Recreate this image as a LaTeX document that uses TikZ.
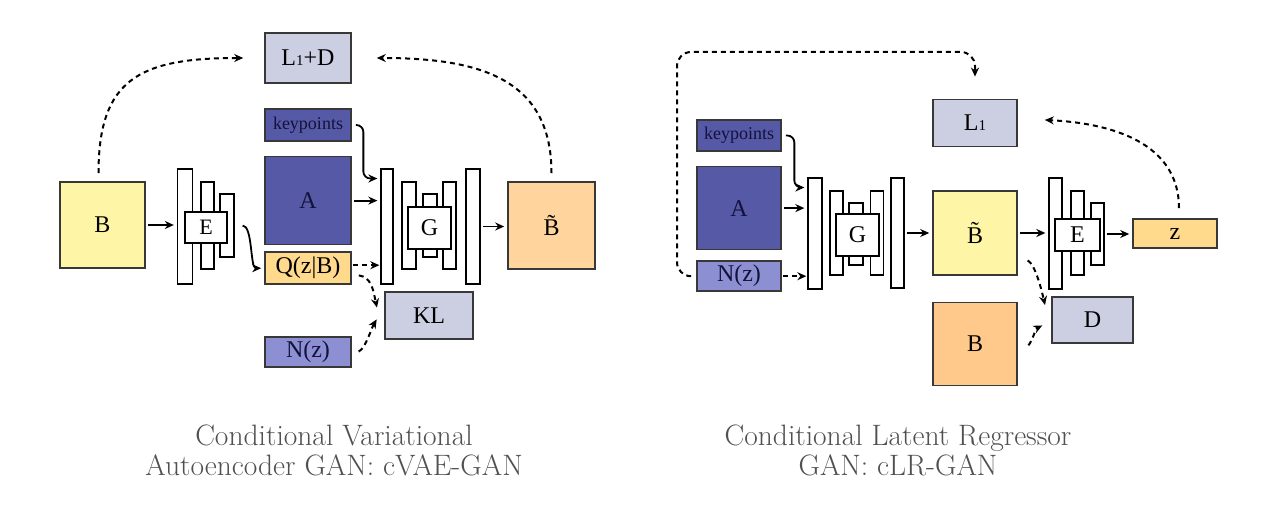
\documentclass[tikz,border=0pt]{standalone}
\usepackage{fontspec}
\usepackage{xcolor}
\usepackage{tikz}
\usetikzlibrary{positioning,arrows.meta,calc}

\newfontfamily\boxfont{Liberation Serif}

\definecolor{bYellow}{HTML}{FFF5A6}
\definecolor{bOrange}{HTML}{FFD49D}
\definecolor{bOrangeR}{HTML}{FFC98B}
\definecolor{aBlue}{HTML}{5659A6}
\definecolor{nBlue}{HTML}{8C8FD2}
\definecolor{qYellow}{HTML}{FFD98C}
\definecolor{lossGray}{HTML}{CCCEE2}
\definecolor{edgeGray}{HTML}{383838}
\definecolor{navyText}{HTML}{12123A}
\definecolor{capGray}{HTML}{505050}

\begin{document}
\begin{tikzpicture}[
    x=1pt, y=-1pt,
    font=\boxfont\fontsize{24}{28}\selectfont,
    >={Stealth[length=9pt,width=8pt]},
    box/.style={draw=edgeGray, line width=1.6pt, inner sep=0pt, minimum width=86pt},
    bar/.style={draw=black, line width=1.3pt, fill=white, inner sep=0pt, minimum width=13pt},
    flow/.style={->, line width=1.8pt, shorten <=2pt, shorten >=3pt},
    dots/.style={->, line width=2pt, dash pattern=on 5pt off 4pt, shorten <=1pt, shorten >=1pt},
    caption/.style={align=center, text=capGray, font=\rmfamily\fontsize{29.5}{30}\selectfont}
]

\useasboundingbox (0,0) rectangle (1280,511);

% cVAE-GAN
\node[box, fill=bYellow, minimum width=85pt, minimum height=86pt] (lB) at (102.5,225) {B};

% encoder E
\node[bar, minimum width=15pt, minimum height=115pt] (eL1) at (185,226.5) {};
\node[bar, minimum height=87pt] (eL2) at (207.5,225.5) {};
\node[bar, minimum width=14pt, minimum height=63pt] (eL3) at (227,225.5) {};
\node[bar, minimum width=42pt, minimum height=31pt, font=\boxfont\fontsize{22}{25}\selectfont] (eLbox) at (206,227.5) {E};

% inputs
\node[box, fill=lossGray, minimum height=50pt] (lLoss) at (308,58) {L{\fontsize{15}{15}\selectfont 1}+D};
\node[box, fill=aBlue, minimum height=32pt, text=navyText, font=\boxfont\fontsize{18}{20}\selectfont] (lKey) at (308,125) {keypoints};
\node[box, fill=aBlue, minimum height=88pt, text=navyText, below=14pt of lKey] (lA) {A};
\node[box, fill=qYellow, minimum height=32pt, below=6pt of lA] (lQ) {Q(z|B)};
\node[box, fill=nBlue, minimum height=30pt, text=navyText] (lN) at (308,352) {N(z)};

% generator G
\node[bar, minimum width=12pt, minimum height=115pt] (gL1) at (387,226.5) {};
\node[bar, minimum width=14pt, minimum height=87pt] (gL2) at (409,225.5) {};
\node[bar, minimum width=14pt, minimum height=63pt] (gL3) at (430,225.5) {};
\node[bar, minimum height=87pt] (gL4) at (449.5,225.5) {};
\node[bar, minimum width=14pt, minimum height=115pt] (gL5) at (473,226.5) {};
\node[bar, minimum width=43pt, minimum height=42pt] (gLbox) at (429.5,228) {G};

\node[box, fill=bOrange, minimum width=87pt, minimum height=87pt] (lBt) at (551.5,225.5) {B^^^^0303};
\node[box, fill=lossGray, minimum width=88pt, minimum height=47pt] (lKL) at (429,315.5) {KL};

% connectors
\draw[flow] (lB.east) -- (eL1.west |- lB.east);
\draw[flow] ([xshift=6pt]eL3.east) .. controls +(12,0) and +(-14,0) .. (lQ.west);
\draw[flow, rounded corners=7pt] ([xshift=2pt]lKey.east) -| ([xshift=-17pt,yshift=48pt]gL1.west) -- ([yshift=48pt]gL1.west);
\draw[flow] (lA.east) -- (gL1.west |- lA.east);
\draw[dots] ([yshift=3pt]lQ.east) -- ([yshift=3pt]gL1.west |- lQ.east);
\draw[flow] (gL5.east) -- (lBt.west |- gL5.east);
\draw[dots] ([xshift=-4pt,yshift=7pt]lB.north) .. controls +(0,-95) and +(-105,0) .. ([xshift=-20pt]lLoss.west);
\draw[dots] ([yshift=7pt]lBt.north) .. controls +(0,-95) and +(105,0) .. ([xshift=24pt]lLoss.east);
\draw[dots] ([xshift=6pt,yshift=-7pt]lQ.east) .. controls +(14,2) and +(-4,-18) .. ([xshift=-7pt,yshift=7pt]lKL.west);
\draw[dots] ([xshift=6pt]lN.east) .. controls +(8,-4) and +(-6,10) .. ([xshift=-7pt,yshift=-3pt]lKL.west);

% cLR-GAN
\node[box, fill=aBlue, minimum width=84pt, minimum height=31pt, text=navyText, font=\boxfont\fontsize{18}{20}\selectfont] (rKey) at (739,135.5) {keypoints};
\node[box, fill=aBlue, minimum width=84pt, minimum height=83pt, text=navyText, below=14pt of rKey] (rA) {A};
\node[box, fill=nBlue, minimum width=84pt, minimum height=30pt, text=navyText, below=10pt of rA] (rN) {N(z)};

% generator G
\node[bar, minimum width=14pt, minimum height=111pt] (gR1) at (815,233.5) {};
\node[bar, minimum height=84pt] (gR2) at (836.5,233) {};
\node[bar, minimum width=14pt, minimum height=62pt] (gR3) at (856,234) {};
\node[bar, minimum height=84pt] (gR4) at (877,233) {};
\node[bar, minimum height=110pt] (gR5) at (897.5,233) {};
\node[bar, minimum width=43pt, minimum height=42pt] (gRbox) at (857.5,235) {G};

\node[box, fill=bYellow, minimum width=84pt, minimum height=84pt] (rBt) at (975,233) {B^^^^0303};
\node[box, fill=lossGray, minimum width=84pt, minimum height=47pt, above=43pt of rBt] (rL1) {L{\fontsize{15}{15}\selectfont 1}};
\node[box, fill=bOrangeR, minimum width=84pt, minimum height=83pt, below=26pt of rBt] (rB) {B};

% encoder E
\node[bar, minimum height=111pt] (eR1) at (1055.5,233.5) {};
\node[bar, minimum height=84pt] (eR2) at (1077.5,233) {};
\node[bar, minimum height=62pt] (eR3) at (1097.5,234) {};
\node[bar, minimum width=45pt, minimum height=32pt] (eRbox) at (1077.5,235) {E};

\node[box, fill=qYellow, minimum width=84pt, minimum height=29pt] (rz) at (1175,233.5) {z};
\node[box, fill=lossGray, minimum width=81pt, minimum height=46pt] (rD) at (1092.5,320) {D};

% connectors
\coordinate (rTop) at (677,52);
\draw[flow, rounded corners=7pt] ([xshift=2pt]rKey.east) -| ([xshift=-13pt,yshift=46pt]gR1.west) -- ([yshift=46pt]gR1.west);
\draw[flow] (rA.east) -- (gR1.west |- rA.east);
\draw[dots] (rN.east) -- (gR1.west |- rN.east);
\draw[flow] (gR5.east) -- (rBt.west |- gR5.east);
\draw[flow] (rBt.east) -- (eR1.west |- rBt.east);
\draw[flow] (eR3.east) -- (rz.west |- eR3.east);
\draw[dots, rounded corners=14pt] ([xshift=-4pt]rN.west) -| (rTop) -| ([yshift=21pt]rL1.north);
\draw[dots] ([xshift=4pt,yshift=9pt]rz.north) .. controls +(0,-60) and +(80,4) .. ([xshift=26pt,yshift=3pt]rL1.east);
\draw[dots] ([xshift=9pt,yshift=-27pt]rBt.east) .. controls +(8,4) and +(-4,-18) .. ([xshift=-6pt,yshift=14pt]rD.west);
\draw[dots] ([xshift=10pt,yshift=-2pt]rB.east) .. controls +(5,-6) and +(-8,4) .. ([xshift=-8pt,yshift=-5pt]rD.west);

% captions
\node[caption] (capL) at (334,450) {Conditional Variational\\Autoencoder GAN: cVAE-GAN};
\node[caption] (capR) at (898,450) {Conditional Latent Regressor\\GAN: cLR-GAN};

\end{tikzpicture}
\end{document}
